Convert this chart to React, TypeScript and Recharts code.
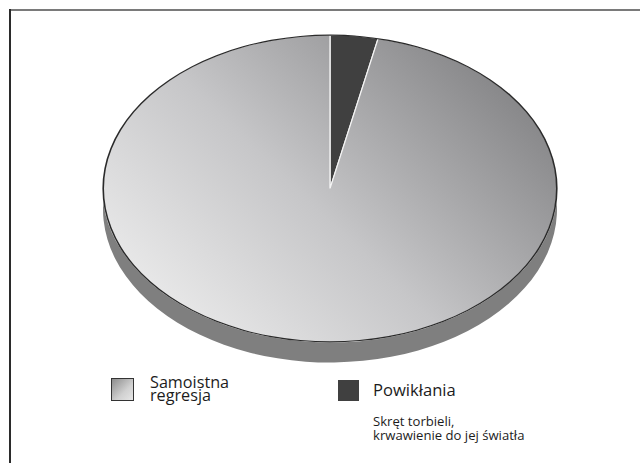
import React from 'react'
import { PieChart, Pie, Cell } from 'recharts'

// slices, clockwise from 12 o'clock
const SLICE_NAMES = ['Powikłania', 'Samoistna regresja']
const SLICE_VALUES = [3.4, 96.6]
const SLICE_FILLS = ['#404040', 'url(#bigSliceGrad)']

const LEGEND_MAIN = ['Samoistna', 'regresja']
const LEGEND_SECOND = 'Powikłania'
const LEGEND_NOTE = ['Skręt torbieli,', 'krwawienie do jej światła']

const FONT = '"Open Sans", "Noto Sans", sans-serif'

// pie geometry (the chart is squashed vertically to make an ellipse)
const RX = 227
const RY = 153.5
const SCALE = RY / RX
const CX = 330
const TOP_Y = 188.5
const DEPTH = 20.5
const CHART_H = 540

const data = SLICE_NAMES.map((name, i) => ({ name, value: SLICE_VALUES[i] }))
const ring = [{ name: 'outline', value: 1 }]

// absolutely placed text block, top computed from the first baseline
const block = (fs: number, lh: number, left: number, baseline: number): React.CSSProperties => ({
  position: 'absolute',
  left,
  top: baseline - ((lh - 1.362 * fs) / 2 + 1.069 * fs),
  fontFamily: FONT,
  fontSize: fs,
  lineHeight: `${lh}px`,
  color: '#1c1c1c',
  whiteSpace: 'nowrap',
})

export default function App() {
  return (
    <div style={{ position: 'fixed', left: 0, top: 0, width: 640, height: 463, background: '#fff', overflow: 'hidden' }}>
      {/* frame: top and left rules only */}
      <div style={{ position: 'absolute', left: 9, top: 9, width: 631, height: 2, background: '#7a7a7a' }} />
      <div style={{ position: 'absolute', left: 9, top: 9, width: 2, height: 454, background: '#2b2b2b' }} />

      <div
        style={{
          position: 'absolute',
          left: 0,
          top: 0,
          width: 640,
          height: CHART_H,
          transform: `scaleY(${SCALE})`,
          transformOrigin: '0 0',
        }}
      >
        <PieChart width={640} height={CHART_H} margin={{ top: 0, right: 0, bottom: 0, left: 0 }}>
          <defs>
            <linearGradient id="bigSliceGrad" x1="0" y1="0.85" x2="1" y2="0.15">
              <stop offset="0%" stopColor="#efefef" />
              <stop offset="45%" stopColor="#c6c6c8" />
              <stop offset="100%" stopColor="#7c7c7e" />
            </linearGradient>
          </defs>
          {/* side of the disc */}
          <Pie
            data={data}
            dataKey="value"
            cx={CX}
            cy={(TOP_Y + DEPTH) / SCALE}
            outerRadius={RX}
            startAngle={90}
            endAngle={-270}
            fill="#7f7f7f"
            stroke="none"
            isAnimationActive={false}
          />
          {/* top face */}
          <Pie
            data={data}
            dataKey="value"
            cx={CX}
            cy={TOP_Y / SCALE}
            outerRadius={RX}
            startAngle={90}
            endAngle={-270}
            stroke="#f4f4f4"
            strokeWidth={1.3}
            isAnimationActive={false}
          >
            {data.map((d, i) => (
              <Cell key={d.name} fill={SLICE_FILLS[i]} />
            ))}
          </Pie>
          {/* outline of the top face */}
          <Pie
            data={ring}
            dataKey="value"
            cx={CX}
            cy={TOP_Y / SCALE}
            innerRadius={RX - 1}
            outerRadius={RX + 0.6}
            startAngle={90}
            endAngle={-270}
            fill="#2a2a2a"
            stroke="none"
            isAnimationActive={false}
          />
        </PieChart>
      </div>

      {/* legend */}
      <div
        style={{
          position: 'absolute',
          left: 111,
          top: 378,
          width: 23,
          height: 23,
          boxSizing: 'border-box',
          border: '1px solid #333',
          background: 'linear-gradient(135deg, #8c8c8c 0%, #d0d0d0 60%, #e6e6e6 100%)',
        }}
      />
      <div style={block(16.2, 13.2, 150, 388.6)}>
        {LEGEND_MAIN[0]}
        <br />
        {LEGEND_MAIN[1]}
      </div>

      <div style={{ position: 'absolute', left: 338, top: 380, width: 21, height: 21, background: '#404040' }} />
      <div style={block(16.6, 17, 373, 396)}>{LEGEND_SECOND}</div>
      <div style={block(13.1, 14, 373, 426)}>
        {LEGEND_NOTE[0]}
        <br />
        {LEGEND_NOTE[1]}
      </div>
    </div>
  )
}
